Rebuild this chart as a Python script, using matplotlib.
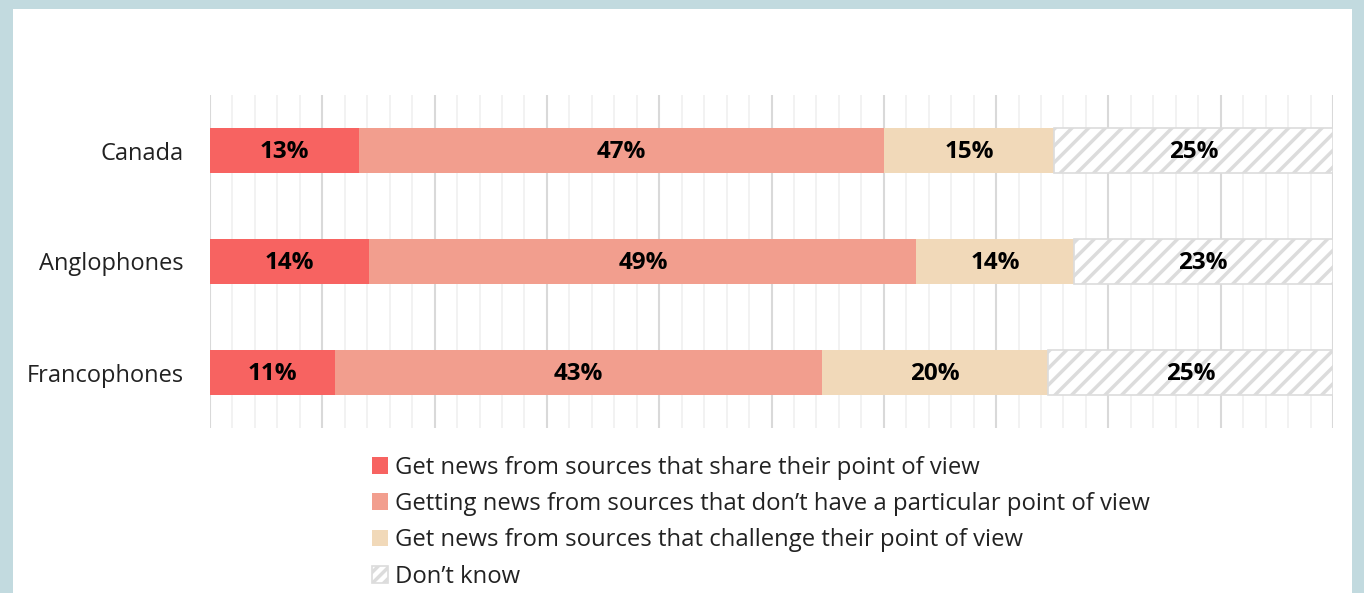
import matplotlib.pyplot as plt
from matplotlib.patches import Rectangle, Patch
from matplotlib.ticker import MultipleLocator
from matplotlib.transforms import ScaledTranslation
import numpy as np

plt.rcParams['font.family'] = ['Open Sans', 'DejaVu Sans']
plt.rcParams['hatch.linewidth'] = 2.5
plt.rcParams['hatch.color'] = '#dcdcdc'

groups = ["Canada", "Anglophones", "Francophones"]
series = [
    "Get news from sources that share their point of view",
    "Getting news from sources that don\u2019t have a particular point of view",
    "Get news from sources that challenge their point of view",
    "Don\u2019t know",
]
# shares (labels are the rounded values)
share = [13.3, 14.2, 11.1]
neutral = [46.7, 48.7, 43.4]
challenge = [15.2, 14.0, 20.1]
dont_know = [24.8, 23.1, 25.4]

colors = ["#f76361", "#f29e8e", "#f1d9b9", "white"]
values = [share, neutral, challenge, dont_know]

fig = plt.figure(figsize=(13.64, 5.93), dpi=100)

# light blue frame
fig.patches.append(Rectangle((0, 0), 1, 1, transform=fig.transFigure,
                             facecolor="#c2dadf", edgecolor="none", zorder=-10))
fig.patches.append(Rectangle((13 / 1364, -0.1), (1352 - 13) / 1364, 1.1 - 9 / 593,
                             transform=fig.transFigure, facecolor="white",
                             edgecolor="none", zorder=-9))

ax = fig.add_axes([210 / 1364, 1 - 428 / 593, (1333 - 210) / 1364, (428 - 95) / 593])
ax.set_facecolor("none")

y = np.arange(len(groups))
left = np.zeros(len(groups))
handles = []
for i, (vals, col) in enumerate(zip(values, colors)):
    vals = np.array(vals, dtype=float)
    if i == 3:
        ax.barh(y, vals, left=left, height=0.4, color="white",
                edgecolor="#dcdcdc", hatch="//", linewidth=1.2, zorder=3)
        handles.append(Patch(facecolor="white", edgecolor="#dcdcdc", hatch="///",
                             linewidth=1.2, label=series[i]))
    else:
        ax.barh(y, vals, left=left, height=0.4, color=col,
                edgecolor="none", zorder=3)
        handles.append(Patch(facecolor=col, edgecolor="none", label=series[i]))
    for yy, l, v in zip(y, left, vals):
        ax.text(l + v / 2, yy + 0.01, f"{round(v)}%", ha="center", va="center",
                fontsize=17.5, fontweight="bold", color="black", zorder=5)
    left += vals

ax.set_xlim(0, 100)
ax.set_ylim(2.5, -0.5)
ax.set_yticks(y)
ax.set_yticklabels(groups, fontsize=17, color="#222222")
shift = ScaledTranslation(0, 0.02, fig.dpi_scale_trans)
for lab in ax.get_yticklabels():
    lab.set_transform(lab.get_transform() + shift)
ax.tick_params(axis="y", length=0, pad=19)
ax.tick_params(axis="x", which="both", length=0, labelbottom=False)
ax.xaxis.set_major_locator(MultipleLocator(10))
ax.xaxis.set_minor_locator(MultipleLocator(2))
ax.grid(axis="x", which="major", color="#d9d9d9", linewidth=1.5, zorder=0)
ax.grid(axis="x", which="minor", color="#f0f0f0", linewidth=1.2, zorder=0)
ax.set_axisbelow(True)
for s in ax.spines.values():
    s.set_visible(False)

fig.legend(handles=handles, loc="upper left",
           bbox_to_anchor=(362 / 1364, 1 - 446 / 593), frameon=False,
           fontsize=17.2, handlelength=0.7, handleheight=0.7,
           handletextpad=0.3, labelspacing=0.52, borderaxespad=0,
           labelcolor="#222222")

fig.savefig("out.png", dpi=100)
